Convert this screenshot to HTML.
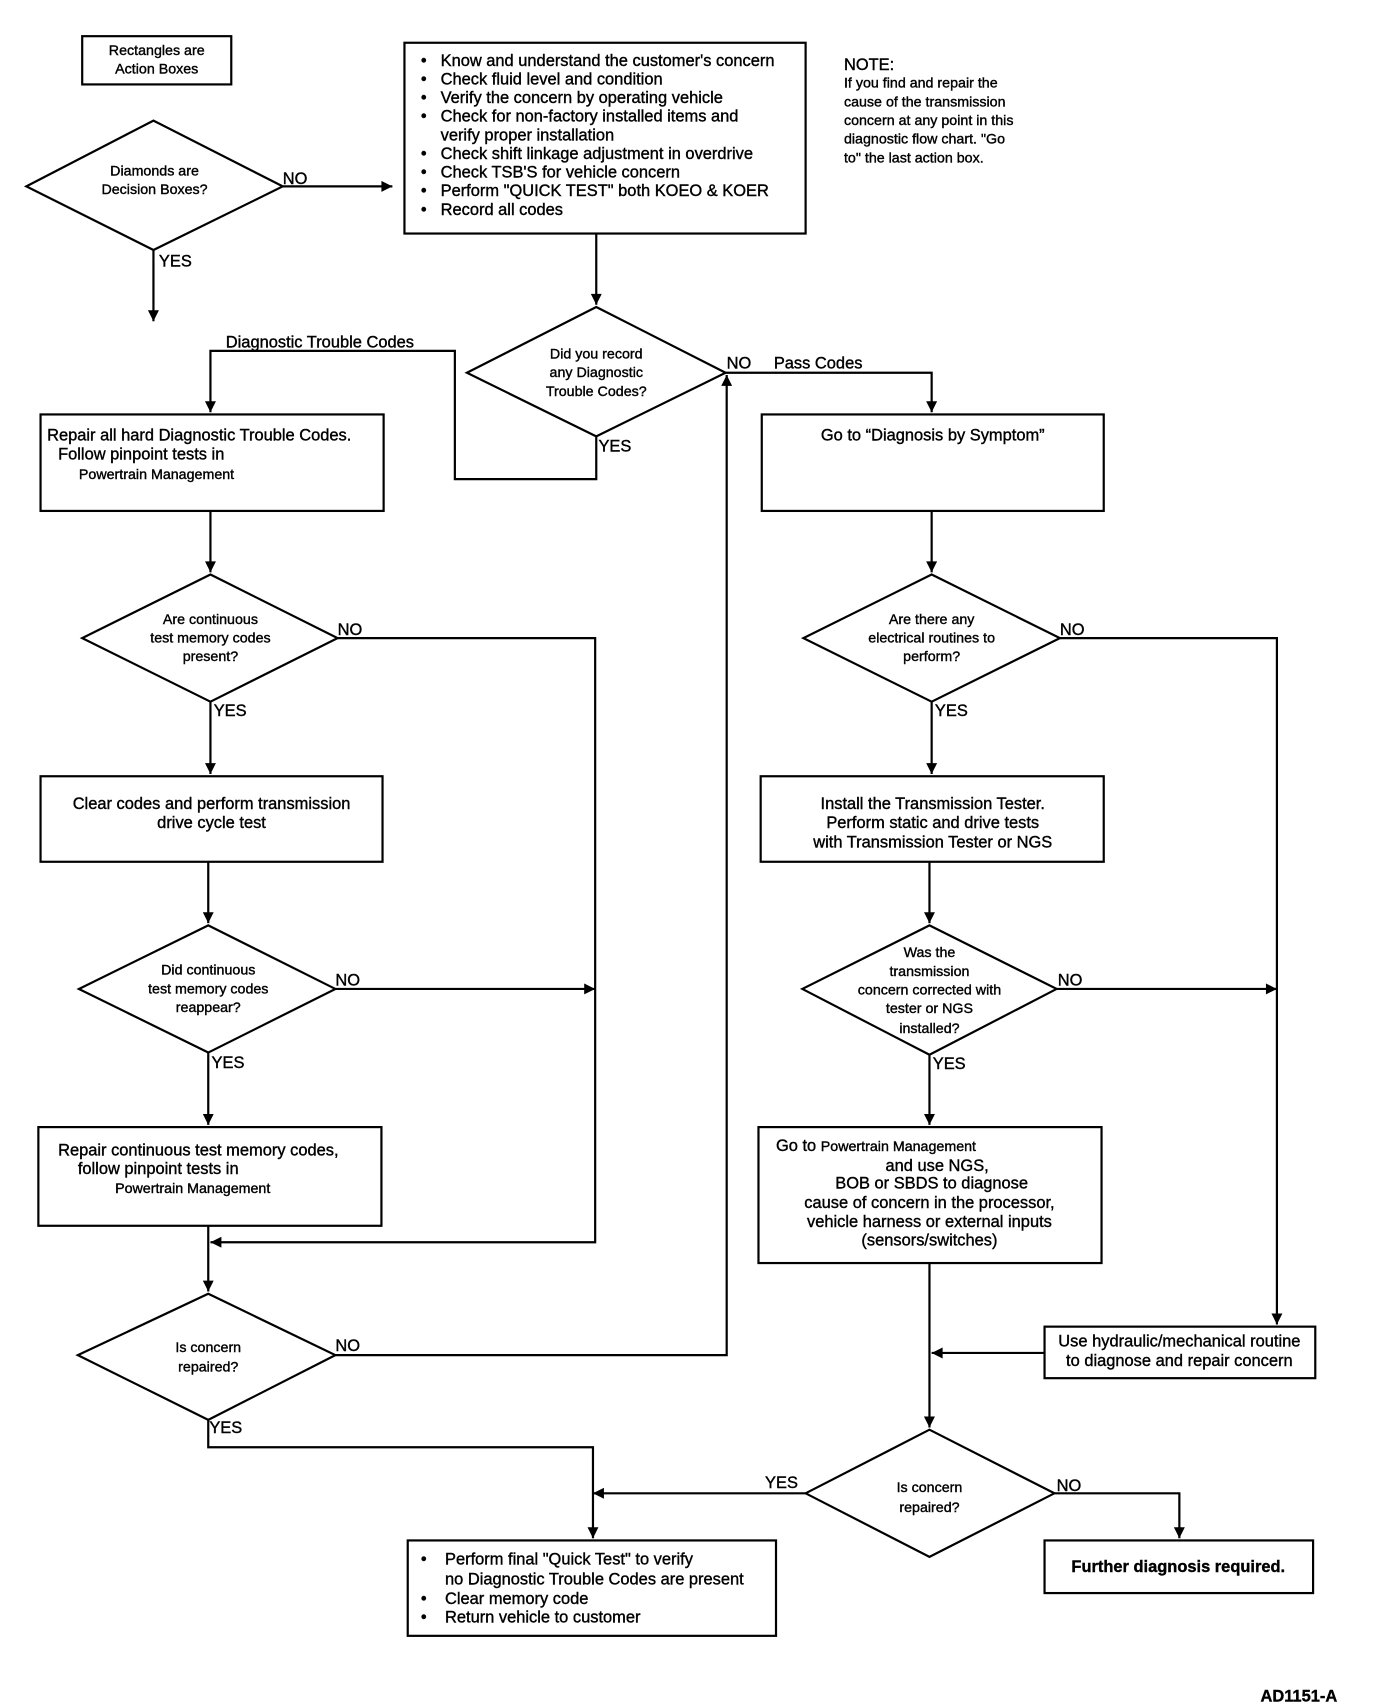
<!DOCTYPE html>
<html><head><meta charset="utf-8"><style>
html,body{margin:0;padding:0;background:#fff}
svg{display:block}
text{font-family:"Liberation Sans",Arial,sans-serif;font-size:15px;fill:#000;stroke:#000;stroke-width:0.35}
.c{text-anchor:middle}
.s{font-size:13px}
</style></head><body>
<svg width="1392" height="1706" viewBox="0 0 1270 1556" preserveAspectRatio="none" xmlns="http://www.w3.org/2000/svg">
<defs><marker id="a" viewBox="0 0 10 10" refX="10" refY="5" markerWidth="7" markerHeight="5" orient="auto" markerUnits="strokeWidth"><path d="M0,0L10,5L0,10z" fill="#000"/></marker></defs>
<g fill="none" stroke="#000" stroke-width="2">
<rect x="75" y="33" width="136" height="44"/>
<polygon points="24,170 140,110 258,170 140,228"/>
<rect x="369" y="39" width="366" height="174"/>
<polygon points="426,340 544,280 662,340 544,398"/>
<rect x="37" y="378" width="313" height="88"/>
<polygon points="75,582 192,524 308,582 192,640"/>
<rect x="37" y="708" width="312" height="78"/>
<polygon points="72,902 190,844 306,902 190,960"/>
<rect x="35" y="1028" width="313" height="90"/>
<polygon points="71,1236 190,1180 306,1236 190,1295"/>
<rect x="695" y="378" width="312" height="88"/>
<polygon points="733,582 850,524 967,582 850,640"/>
<rect x="694" y="708" width="313" height="78"/>
<polygon points="732,902 848,844 964,902 848,962"/>
<rect x="692" y="1028" width="313" height="124"/>
<rect x="953" y="1210" width="247" height="47"/>
<polygon points="735,1362 848,1304 962,1362 848,1420"/>
<rect x="953" y="1405" width="245" height="48"/>
<rect x="372" y="1405" width="336" height="87"/>
</g>
<g fill="none" stroke="#000" stroke-width="2" marker-end="url(#a)">
<path d="M258,170H358"/>
<path d="M140,228V293"/>
<path d="M544,213V278"/>
<path d="M544,398V437H415V320H192V376"/>
<path d="M662,340H850V376"/>
<path d="M192,466V522"/>
<path d="M308,582H543V1133H192"/>
<path d="M192,640V706"/>
<path d="M190,786V842"/>
<path d="M306,902H543"/>
<path d="M190,960V1026"/>
<path d="M190,1118V1178"/>
<path d="M306,1236H663V342"/>
<path d="M190,1295V1320H541V1403"/>
<path d="M850,466V522"/>
<path d="M967,582H1165V1208"/>
<path d="M850,640V706"/>
<path d="M848,786V842"/>
<path d="M964,902H1165"/>
<path d="M848,962V1026"/>
<path d="M848,1152V1302"/>
<path d="M953,1234H850"/>
<path d="M735,1362H541"/>
<path d="M962,1362H1076V1403"/>
</g>
<text class="c s" x="143" y="50">Rectangles are</text>
<text class="c s" x="143" y="67">Action Boxes</text>
<text class="c s" x="141" y="160">Diamonds are</text>
<text class="c s" x="141" y="177">Decision Boxes?</text>
<text x="258" y="168">NO</text>
<text x="145" y="243">YES</text>
<g>
<text x="384" y="60">•</text><text x="402" y="60">Know and understand the customer's concern</text>
<text x="384" y="77">•</text><text x="402" y="77">Check fluid level and condition</text>
<text x="384" y="94">•</text><text x="402" y="94">Verify the concern by operating vehicle</text>
<text x="384" y="111">•</text><text x="402" y="111">Check for non-factory installed items and</text>
<text x="402" y="128">verify proper installation</text>
<text x="384" y="145">•</text><text x="402" y="145">Check shift linkage adjustment in overdrive</text>
<text x="384" y="162">•</text><text x="402" y="162">Check TSB'S  for vehicle concern</text>
<text x="384" y="179">•</text><text x="402" y="179">Perform "QUICK TEST" both KOEO &amp; KOER</text>
<text x="384" y="196">•</text><text x="402" y="196">Record all codes</text>
</g>
<text x="770" y="64">NOTE:</text>
<text class="s" x="770" y="80">If you find and repair the</text>
<text class="s" x="770" y="97">cause of the transmission</text>
<text class="s" x="770" y="114">concern at any point in this</text>
<text class="s" x="770" y="131">diagnostic flow chart. "Go</text>
<text class="s" x="770" y="148">to" the last action box.</text>
<text class="c s" x="544" y="327">Did you record</text>
<text class="c s" x="544" y="344">any Diagnostic</text>
<text class="c s" x="544" y="361">Trouble Codes?</text>
<text x="546" y="412">YES</text>
<text x="206" y="317">Diagnostic Trouble Codes</text>
<text x="663" y="336">NO</text>
<text x="706" y="336">Pass Codes</text>
<text x="43" y="402">Repair all hard Diagnostic Trouble Codes.</text>
<text x="53" y="419">Follow pinpoint tests in</text>
<text class="s" x="72" y="437">Powertrain Management</text>
<text class="c s" x="192" y="569">Are continuous</text>
<text class="c s" x="192" y="586">test memory codes</text>
<text class="c s" x="192" y="603">present?</text>
<text x="308" y="579">NO</text>
<text x="195" y="653">YES</text>
<text class="c" x="193" y="738">Clear codes and perform transmission</text>
<text class="c" x="193" y="755">drive cycle test</text>
<text class="c s" x="190" y="889">Did continuous</text>
<text class="c s" x="190" y="906">test memory codes</text>
<text class="c s" x="190" y="923">reappear?</text>
<text x="306" y="899">NO</text>
<text x="193" y="974">YES</text>
<text x="53" y="1054">Repair continuous test memory codes,</text>
<text x="71" y="1071">follow pinpoint tests in</text>
<text class="s" x="105" y="1088">Powertrain Management</text>
<text class="c s" x="190" y="1233">Is concern</text>
<text class="c s" x="190" y="1251">repaired?</text>
<text x="306" y="1232">NO</text>
<text x="191" y="1307">YES</text>
<text class="c" x="851" y="402">Go to “Diagnosis by Symptom”</text>
<text class="c s" x="850" y="569">Are there any</text>
<text class="c s" x="850" y="586">electrical routines to</text>
<text class="c s" x="850" y="603">perform?</text>
<text x="967" y="579">NO</text>
<text x="853" y="653">YES</text>
<text class="c" x="851" y="738">Install the Transmission Tester.</text>
<text class="c" x="851" y="755">Perform static and drive tests</text>
<text class="c" x="851" y="773">with Transmission Tester or NGS</text>
<text class="c s" x="848" y="873">Was the</text>
<text class="c s" x="848" y="890">transmission</text>
<text class="c s" x="848" y="907">concern corrected with</text>
<text class="c s" x="848" y="924">tester or NGS</text>
<text class="c s" x="848" y="942">installed?</text>
<text x="965" y="899">NO</text>
<text x="851" y="975">YES</text>
<text x="708" y="1050">Go to <tspan font-size="13">Powertrain Management</tspan></text>
<text class="c" x="855" y="1068">and use NGS,</text>
<text class="c" x="850" y="1084">BOB or SBDS to diagnose</text>
<text class="c" x="848" y="1102">cause of concern in the processor,</text>
<text class="c" x="848" y="1119">vehicle harness or external inputs</text>
<text class="c" x="848" y="1136">(sensors/switches)</text>
<text class="c" x="1076" y="1228">Use hydraulic/mechanical routine</text>
<text class="c" x="1076" y="1246">to diagnose and repair concern</text>
<text class="c s" x="848" y="1361">Is concern</text>
<text class="c s" x="848" y="1379">repaired?</text>
<text x="698" y="1357">YES</text>
<text x="964" y="1360">NO</text>
<text class="c" x="1075" y="1434" font-weight="bold">Further diagnosis required.</text>
<text x="384" y="1427">•</text><text x="406" y="1427">Perform final "Quick Test" to verify</text>
<text x="406" y="1445">no Diagnostic Trouble Codes are present</text>
<text x="384" y="1463">•</text><text x="406" y="1463">Clear memory code</text>
<text x="384" y="1480">•</text><text x="406" y="1480">Return vehicle to customer</text>
<text x="1150" y="1552" font-weight="bold" font-size="17">AD1151-A</text>
</svg>
</body></html>
